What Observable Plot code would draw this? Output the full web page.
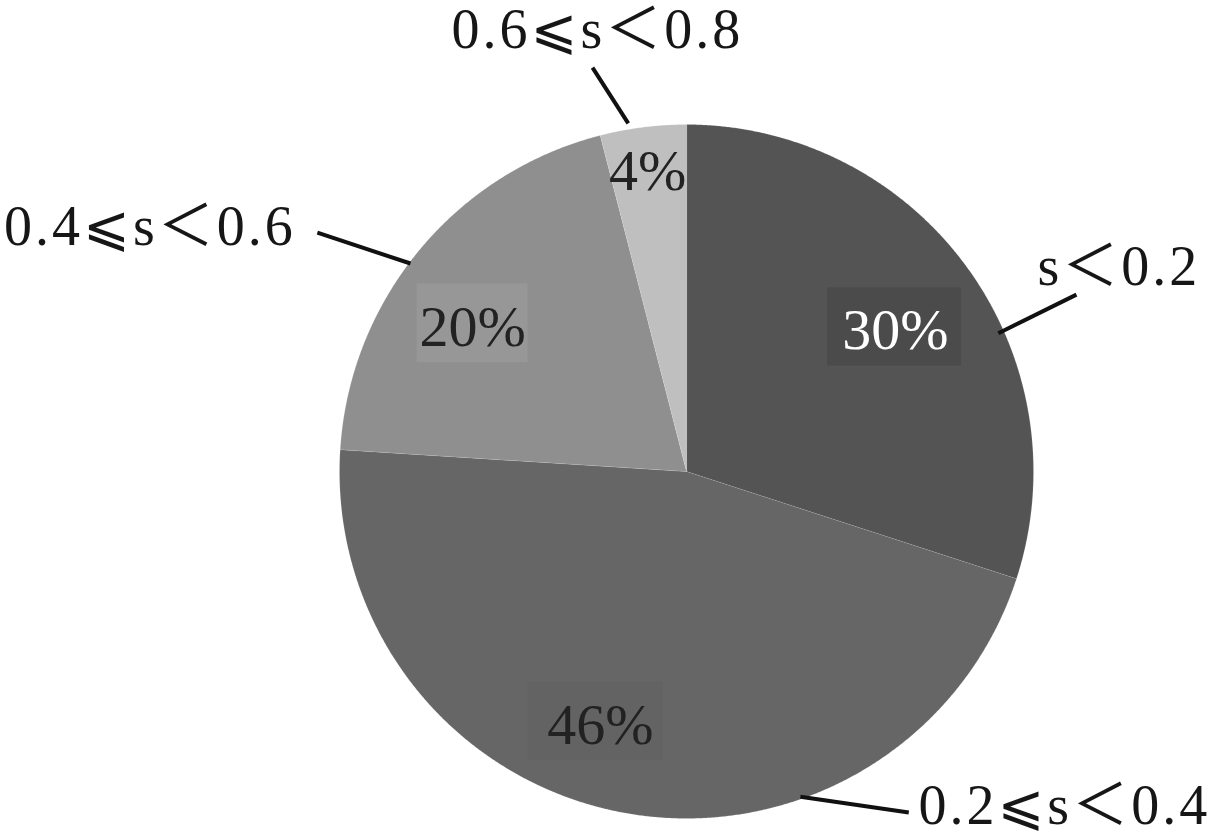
<!DOCTYPE html>
<html>
<head>
<meta charset="utf-8">
<script src="https://cdn.jsdelivr.net/npm/d3@7"></script>
<script src="https://cdn.jsdelivr.net/npm/@observablehq/plot@0.6"></script>
<style>
  html, body { margin: 0; padding: 0; background: #ffffff; }
  #chart { width: 1212px; height: 836px; }
</style>
</head>
<body>
<div id="chart"></div>
<script>
// ---------- data ----------
const categories = ["s＜0.2", "0.2⩽s＜0.4", "0.4⩽s＜0.6", "0.6⩽s＜0.8"];
const shares = [30, 46, 20, 4];
const percentLabels = ["30%", "46%", "20%", "4%"];

// ---------- styles ----------
const sliceColors = ["#545454", "#666666", "#8f8f8f", "#bfbfbf"];
const boxColors = ["#4b4b4b", "#636363", "#979797", "none"];
const valueTextColors = ["#ffffff", "#222222", "#222222", "#222222"];

// ---------- layout (relative to the pie: angle in degrees clockwise from 12 o'clock, radius in pie radii) ----------
const W = 1212, H = 836;
const R = 347, CX = 686, CY = 471;           // pie radius and centre in pixels
const valueLabelLayout = [
  {shift: 1.2, r: 0.73, w: 134, h: 78, tx: 1},
  {shift: 9.2, r: 0.767, w: 135, h: 78, tx: 5},
  {shift: -4.9, r: 0.75, w: 111, h: 79, tx: 0},
  {shift: -0.1, r: 0.883, w: 0, h: 0, tx: 0}
];
const leaderLayout = [
  {a1: 66.1, r1: 0.983, a2: 65.6, r2: 1.234},
  {a1: 160.7, r1: 0.993, a2: 146.9, r2: 1.173},
  {a1: 307.0, r1: 0.996, a2: 302.9, r2: 1.267},
  {a1: 350.5, r1: 1.017, a2: 346.9, r2: 1.195}
];
const nameLayout = [
  {a: 59.8, r: 1.170, anchor: "start"},
  {a: 145.3, r: 1.174, anchor: "start"},
  {a: 302.0, r: 1.328, anchor: "end"},
  {a: 348.6, r: 1.299, anchor: "middle"}
];

const polar = (deg, r) => {
  const a = deg * Math.PI / 180;
  return [r * Math.sin(a), r * Math.cos(a)];
};

// ---------- geometry from the data ----------
const arcs = d3.pie().sort(null).value(d => d)(shares);

const sliceRows = arcs.flatMap((arc, i) => {
  const n = Math.max(4, Math.ceil((arc.endAngle - arc.startAngle) / (Math.PI / 720)));
  const pts = [{key: i, x: 0, y: 0, fill: sliceColors[i]}];
  for (let k = 0; k <= n; k++) {
    const t = arc.startAngle + (arc.endAngle - arc.startAngle) * k / n;
    pts.push({key: i, x: Math.sin(t), y: Math.cos(t), fill: sliceColors[i]});
  }
  return pts;
});

const valueRows = arcs.map((arc, i) => {
  const L = valueLabelLayout[i];
  const mid = (arc.startAngle + arc.endAngle) / 2 * 180 / Math.PI + L.shift;
  const [x, y] = polar(mid, L.r);
  return {
    x, y, tx: x + L.tx / R,
    x1: x - L.w / 2 / R, x2: x + L.w / 2 / R,
    y1: y - L.h / 2 / R, y2: y + L.h / 2 / R,
    text: percentLabels[i], box: boxColors[i], color: valueTextColors[i]
  };
});

const leaderRows = leaderLayout.map(L => {
  const [x1, y1] = polar(L.a1, L.r1);
  const [x2, y2] = polar(L.a2, L.r2);
  return {x1, y1, x2, y2};
});

const nameRows = categories.map((c, i) => {
  const [x, y] = polar(nameLayout[i].a, nameLayout[i].r);
  return {x, y, text: c, anchor: nameLayout[i].anchor};
});

const FONT = "'Liberation Serif', serif";
const NAME_FONT = "'Liberation Serif', 'DejaVu Sans ExtraLight', 'Noto Sans CJK JP', 'DejaVu Sans', serif";

const nameMark = anchor => Plot.text(nameRows.filter(d => d.anchor === anchor), {
  x: "x", y: "y", text: "text", textAnchor: anchor,
  fontSize: 56, fontFamily: NAME_FONT, fill: "#161616", className: "names"
});

const chart = Plot.plot({
  width: W, height: H, margin: 0,
  x: {domain: [-CX / R, (W - CX) / R], axis: null},
  y: {domain: [(CY - H) / R, CY / R], axis: null},
  color: {type: "identity"},
  style: {background: "#ffffff", overflow: "visible"},
  marks: [
    Plot.line(sliceRows, {
      x: "x", y: "y", z: "key", fill: "fill", curve: "linear-closed",
      stroke: "#ffffff", strokeOpacity: 0.12, strokeWidth: 1
    }),
    Plot.rect(valueRows.filter(d => d.box !== "none"), {
      x1: "x1", x2: "x2", y1: "y1", y2: "y2", fill: "box"
    }),
    Plot.text(valueRows, {
      x: "tx", y: "y", text: "text", fill: "color", dy: 4,
      fontSize: 58, fontFamily: FONT
    }),
    Plot.link(leaderRows, {
      x1: "x1", y1: "y1", x2: "x2", y2: "y2", stroke: "#111111", strokeWidth: 4
    }),
    nameMark("start"),
    nameMark("middle"),
    nameMark("end")
  ]
});

d3.select(chart).selectAll(".names text").attr("letter-spacing", 3);
document.getElementById("chart").appendChild(chart);
</script>
</body>
</html>
